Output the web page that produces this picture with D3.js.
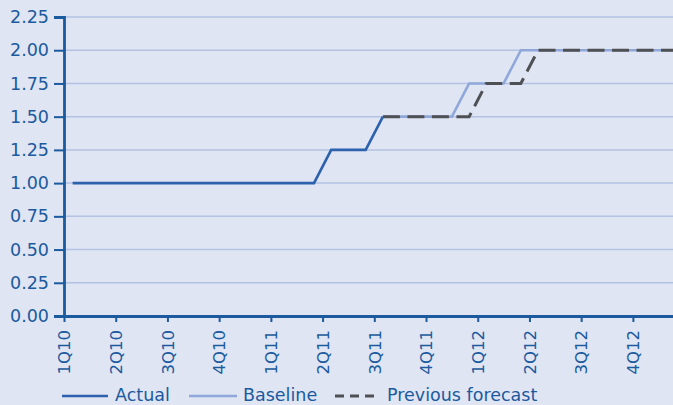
<!DOCTYPE html>
<html>
<head>
<meta charset="utf-8">
<script src="https://cdn.jsdelivr.net/npm/d3@7"></script>
<style>
  html, body { margin: 0; padding: 0; background: #dfe5f3; }
  svg { display: block; overflow: hidden; }
  text { font-family: "DejaVu Sans", sans-serif; fill: #1b5a9e; }
</style>
</head>
<body>
<div id="chart"></div>
<script>
// Monthly observations, Jan 2010 – Dec 2012
const months = [
  "Jan10","Feb10","Mar10","Apr10","May10","Jun10","Jul10","Aug10","Sep10","Oct10","Nov10","Dec10",
  "Jan11","Feb11","Mar11","Apr11","May11","Jun11","Jul11","Aug11","Sep11","Oct11","Nov11","Dec11",
  "Jan12","Feb12","Mar12","Apr12","May12","Jun12","Jul12","Aug12","Sep12","Oct12","Nov12","Dec12"
];
const quarterLabels = ["1Q10","2Q10","3Q10","4Q10","1Q11","2Q11","3Q11","4Q11","1Q12","2Q12","3Q12","4Q12"];
const yTicks = [0, 0.25, 0.5, 0.75, 1, 1.25, 1.5, 1.75, 2, 2.25];

// Policy rate paths (null = no value for that month)
const actual = [
  1.00,1.00,1.00,1.00,1.00,1.00,1.00,1.00,1.00,1.00,1.00,1.00,
  1.00,1.00,1.00,1.25,1.25,1.25,1.50,null,null,null,null,null,
  null,null,null,null,null,null,null,null,null,null,null,null
];
const baseline = [
  null,null,null,null,null,null,null,null,null,null,null,null,
  null,null,null,null,null,null,1.50,1.50,1.50,1.50,1.50,1.75,
  1.75,1.75,2.00,2.00,2.00,2.00,2.00,2.00,2.00,2.00,2.00,2.00
];
const previousForecast = [
  null,null,null,null,null,null,null,null,null,null,null,null,
  null,null,null,null,null,null,1.50,1.50,1.50,1.50,1.50,1.50,
  1.75,1.75,1.75,2.00,2.00,2.00,2.00,2.00,2.00,2.00,2.00,2.00
];
const legendItems = ["Actual", "Baseline", "Previous forecast"];

const W = 673, H = 405;
const m = { left: 64, top: 17, bottom: 316 };
const plotRight = 684.6;
const ink = "#1b5a9e";

const svg = d3.select("#chart").append("svg").attr("width", W).attr("height", H);
svg.append("rect").attr("width", W).attr("height", H).attr("fill", "#dfe5f3");

// Month bands on a continuous scale: month i spans [i, i+1]
const x = d3.scaleLinear().domain([0, months.length]).range([m.left, plotRight]);
const y = d3.scaleLinear().domain([0, 2.25]).range([m.bottom, m.top]);

// Horizontal gridlines
svg.append("g").selectAll("line").data(yTicks.filter(d => d > 0)).join("line")
  .attr("x1", m.left).attr("x2", W)
  .attr("y1", d => y(d)).attr("y2", d => y(d))
  .attr("stroke", "#b3c2e3").attr("stroke-width", 1.5);

const series = [
  { values: baseline, color: "#8fa8d9", width: 2.6, dash: null },
  { values: previousForecast, color: "#4f5054", width: 3, dash: "17,7.5" },
  { values: actual, color: "#2c62ad", width: 2.6, dash: null }
];

const line = d3.line()
  .defined(d => d.v !== null)
  .x(d => x(d.i + 0.5))
  .y(d => y(d.v));

series.forEach(s => {
  svg.append("path")
    .datum(s.values.map((v, i) => ({ i, v })))
    .attr("d", line)
    .attr("fill", "none")
    .attr("stroke", s.color)
    .attr("stroke-width", s.width)
    .attr("stroke-dasharray", s.dash);
});

// Y axis
const yAxis = svg.append("g").attr("transform", `translate(${m.left},0)`)
  .call(d3.axisLeft(y).tickValues(yTicks).tickFormat(d3.format(".2f")).tickSize(10).tickPadding(5));
yAxis.attr("font-family", null);
yAxis.select(".domain").attr("stroke", ink).attr("stroke-width", 2.8);
yAxis.selectAll(".tick line").attr("stroke", ink).attr("stroke-width", 2);
yAxis.selectAll("text").attr("font-size", 17.5).attr("fill", ink);

// X axis: ticks at the start of each quarter
const xAxis = svg.append("g").attr("transform", `translate(0,${m.bottom})`)
  .call(d3.axisBottom(x)
    .tickValues(quarterLabels.map((_, i) => i * 3))
    .tickFormat((d, i) => quarterLabels[i])
    .tickSize(6).tickSizeOuter(0));
xAxis.attr("font-family", null);
xAxis.select(".domain").attr("stroke", ink).attr("stroke-width", 2.8);
xAxis.selectAll(".tick line").attr("stroke", ink).attr("stroke-width", 2);
xAxis.selectAll("text")
  .attr("font-size", 16.5).attr("fill", ink)
  .attr("transform", "rotate(-90)")
  .attr("text-anchor", "end")
  .attr("x", -14).attr("y", 0).attr("dy", "0.35em");

// Legend
const legend = svg.append("g");
const legendPos = [
  { x1: 62, x2: 108, tx: 115 },
  { x1: 189, x2: 237, tx: 243 },
  { x1: 335, x2: 377, tx: 387 }
];
legendItems.forEach((name, i) => {
  const s = [series[2], series[0], series[1]][i];
  const p = legendPos[i];
  legend.append("line")
    .attr("x1", p.x1).attr("x2", p.x2).attr("y1", 396).attr("y2", 396)
    .attr("stroke", s.color).attr("stroke-width", s.width)
    .attr("stroke-dasharray", i === 2 ? "9,6" : null);
  legend.append("text")
    .attr("x", p.tx).attr("y", 401)
    .attr("font-size", 17.5).attr("fill", ink)
    .text(name);
});
</script>
</body>
</html>
